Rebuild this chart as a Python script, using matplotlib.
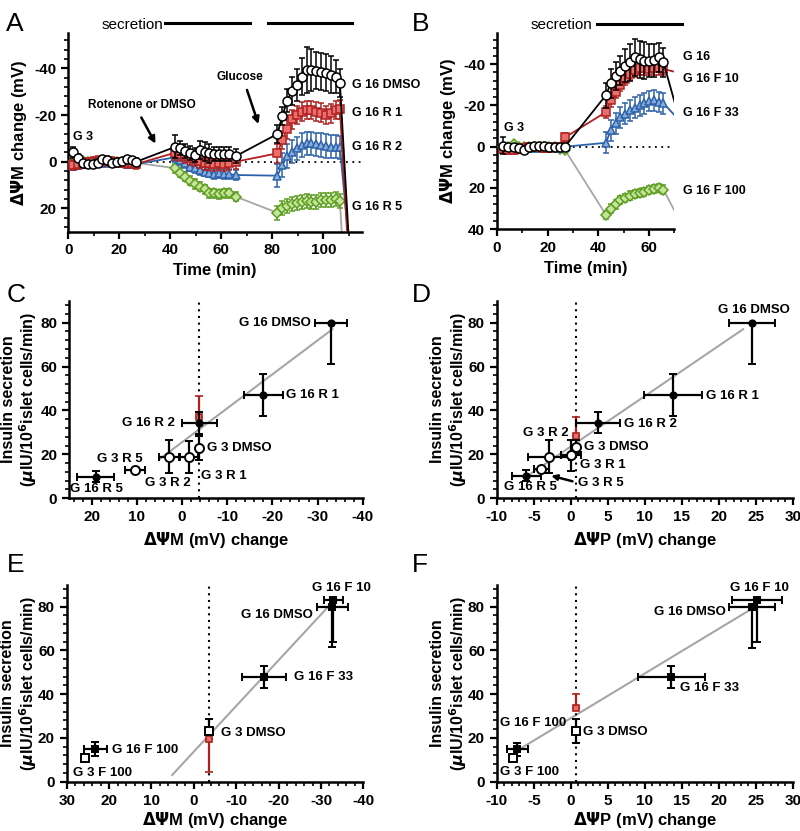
import matplotlib
matplotlib.use('Agg')
import matplotlib.pyplot as plt
from matplotlib.ticker import MultipleLocator, AutoMinorLocator

plt.rcParams['font.family'] = ['Liberation Sans', 'DejaVu Sans']
plt.rcParams['font.weight'] = 'bold'
plt.rcParams['axes.labelweight'] = 'bold'
plt.rcParams['axes.unicode_minus'] = False

# ---------------- data: panel A (time course, rotenone) ----------------
t_a = [2.0, 3.9, 5.8, 7.7, 9.6, 11.5, 13.4, 15.3, 17.2, 19.1, 21.0, 22.9, 24.8, 26.7,
       42.0, 43.9, 45.8, 47.7, 49.6, 51.5, 53.4, 55.3, 57.2, 59.1, 61.0, 62.9, 65.7,
       82.0, 83.9, 85.8, 87.7, 89.6, 91.5, 93.4, 95.3, 97.2, 99.1, 101.0, 102.9, 104.8, 106.5]
a_dmso = [-4, -1.7, 0.7, 1.1, 1.1, 0.4, -1, -0.7, 0.7, 0.3, -0.3, -1, -0.7, 0,
          -6.4, -5.7, -4.7, -3.6, -3, -5, -4.3, -3.6, -3.3, -3.3, -3.3, -3.3, -2.4,
          -11.9, -19.6, -26.1, -30.4, -32.9, -36.4, -39.3, -39.3, -39, -38.6, -38.2, -37.3, -36.4, -33.6]
a_dmso_err = [2.5, 1.5, 1.5, 1.5, 1.5, 1.5, 1.5, 1.5, 1.5, 1.5, 1.5, 1.5, 1.5, 1.5,
              5, 3, 3, 3, 3, 4, 4, 4, 3, 3, 3, 3, 3,
              4, 4, 5, 6, 7, 8, 10, 9, 8, 8, 8, 8, 7, 6]
a_r1 = [1.4, 1, 0.7, 0.3, 0, -0.3, -0.5, -0.3, 0, 0.3, 0.3, 0.5, 0.7, 1,
        -3.9, -3.3, -2.4, -1.7, -1, -0.4, 0.4, 0.7, 1.1, 0.7, 0.9, 0.5, 0,
        -3.6, -9.3, -13.9, -18.2, -20, -21.4, -22.2, -22.2, -21.4, -21, -20, -20.7, -22.2, -22.5]
a_r1_err = [2] * 14 + [3] * 13 + [4] * 14
a_r2 = [2, 1.5, 1, 1, 0.7, 0.7, 0.5, 0.5, 0.5, 0.5, 0.7, 1, 1, 1,
        -1.9, -0.7, 0.7, 2.1, 2.8, 3.6, 4.3, 4.7, 5.3, 5, 5.3, 5.3, 5.7,
        6, 1.4, -2.4, -4.3, -5.7, -7.1, -7.9, -7.9, -7.5, -7.1, -6.8, -6.4, -6.4, -6.2]
a_r2_err = [1.5] * 14 + [2] * 13 + [5] * 14
a_r5 = [0, -0.5, -0.3, 0, 0, 0, -0.5, -0.3, 0, 0, 0, 0.3, 0.5, 0.5,
        2.8, 4.7, 6.4, 8.1, 9.6, 10.7, 11.8, 13.5, 13.5, 14, 13.5, 13.5, 15,
        21.9, 20, 19, 18.1, 17.6, 17.1, 16.8, 17.1, 17.1, 16.6, 16.4, 16.4, 16.1, 17]
a_r5_err = [1] * 14 + [2] * 13 + [3] * 14
a_tail = {'dmso': (109.8, 30), 'r1': (109.3, 30), 'r2': (109.6, 30), 'r5': (107.2, 30)}

# ---------------- data: panel B (time course, FCCP) ----------------
t_b = [2.5, 4.5, 6.5, 8.5, 10.5, 12.6, 14.6, 16.6, 18.6, 20.6, 22.7, 24.7, 26.8,
       43.0, 44.9, 46.8, 48.7, 50.6, 52.5, 54.4, 56.3, 58.2, 60.1, 62.0, 63.9, 65.7]
b_g16 = [-0.5, 0, 0.3, 0.8, 1.6, 0.3, -0.5, -0.5, -0.5, 0, 0, 0, 0,
         -25, -30.8, -34.3, -36.9, -39.2, -41, -43.3, -42.5, -41.7, -41.7, -42, -43.3, -41]
b_g16_err = [4] + [1.5] * 12 + [6, 7, 7, 7, 8, 9, 9, 9, 9, 8, 8, 7, 7]
b_f10 = [1, 1.5, 1.5, 1, 0.5, 0, 0, 0, 0.5, 0.5, 0, 0, -4.5,
         -16.8, -22.5, -26.5, -30, -33, -35.5, -37, -38, -38, -37.7, -38, -38, -37.7]
b_f10_err = [2] * 13 + [3] * 13
b_f33 = [1, 1, 1, 0.5, 0.5, 0.5, 0.5, 0.5, 0.5, 0.5, 0.5, 0.5, 0,
         -1.9, -8, -11.3, -14.3, -16, -17.6, -18.9, -20, -21.1, -22.1, -22.5, -21.7, -21.1]
b_f33_err = [1.5] * 13 + [5] * 13
b_f100 = [0, 0, -1.5, 0, 0, 0, 0, 0, 0, 0, 0, 1, 1.5,
          33, 30, 28, 25.7, 24.9, 23.7, 22.9, 22.4, 22, 21, 20.4, 20, 20.8]
b_f100_err = [1] * 13 + [2] * 13
b_tail = {'g16': (70.3, -20.8), 'f10': (70.3, -36.3), 'f33': (70.3, -15), 'f100': (70.3, 31.6)}

# ---------------- data: panels C-F (secretion vs potential) ----------------
# each entry: label, x, xerr, y, yerr_low, yerr_high, open marker?
c_pts = [('G 16 DMSO', -33.0, 3.5, 80.0, 19.0, 0.0, False),
         ('G 16 R 1', -18.0, 4.3, 47.0, 9.5, 9.5, False),
         ('G 16 R 2', -3.8, 3.9, 34.4, 5.0, 5.0, False),
         ('G 3 DMSO', -3.8, 0.0, 23.0, 5.5, 5.5, True),
         ('G 3 R 1', -1.5, 2.0, 19.0, 7.3, 7.3, True),
         ('G 3 R 2', 2.9, 2.3, 19.0, 7.5, 7.5, True),
         ('G 3 R 5', 10.4, 2.3, 12.9, 1.0, 1.0, True),
         ('G 16 R 5', 19.1, 4.1, 9.9, 2.5, 2.5, False)]
c_red = (-3.8, 37.0, 0.0, 9.6)
c_fit_x, c_fit_y = [5.0, -33.3], [17.8, 77.0]
c_vline = -3.8

d_pts = [('G 16 DMSO', 24.5, 3.1, 80.0, 19.0, 0.0, False),
         ('G 16 R 1', 13.8, 3.9, 47.0, 9.5, 9.5, False),
         ('G 16 R 2', 3.65, 3.0, 34.5, 4.6, 4.6, False),
         ('G 3 DMSO', 0.7, 0.0, 23.5, 3.0, 3.0, True),
         ('G 3 R 1', 0.05, 1.4, 19.5, 7.0, 7.0, True),
         ('G 3 R 2', -3.0, 2.8, 19.0, 7.5, 7.5, True),
         ('G 3 R 5', -4.0, 1.0, 13.3, 1.0, 1.0, True),
         ('G 16 R 5', -6.0, 2.0, 10.3, 2.5, 2.5, False)]
d_red = (0.7, 28.3, 0.0, 8.6)
d_fit_x, d_fit_y = [-6.0, 23.3], [9.8, 77.0]
d_vline = 0.7

e_pts = [('G 16 F 10', -32.9, 2.3, 83.0, 19.0, 0.0, False),
         ('G 16 DMSO', -32.7, 3.7, 80.0, 18.6, 0.0, False),
         ('G 16 F 33', -16.6, 5.2, 47.7, 5.0, 5.0, False),
         ('G 3 DMSO', -3.6, 0.0, 23.2, 0.0, 5.3, True),
         ('G 16 F 100', 23.3, 2.7, 14.8, 3.2, 3.2, False),
         ('G 3 F 100', 25.7, 0.8, 10.7, 1.0, 1.0, True)]
e_red = (-3.6, 19.5, 15.0, 0.0)
e_fit_x, e_fit_y = [5.1, -31.7], [3.1, 80.0]
e_vline = -3.6

f_pts = [('G 16 F 10', 25.2, 3.4, 83.0, 19.3, 0.0, False),
         ('G 16 DMSO', 24.5, 3.1, 80.0, 19.0, 0.0, False),
         ('G 16 F 33', 13.6, 4.5, 48.0, 5.0, 5.0, False),
         ('G 3 DMSO', 0.7, 0.0, 23.2, 5.3, 5.3, True),
         ('G 16 F 100', -7.2, 1.4, 14.9, 3.0, 3.0, False),
         ('G 3 F 100', -7.8, 0.5, 10.7, 1.0, 1.0, True)]
f_red = (0.7, 33.8, 0.0, 6.2)
f_fit_x, f_fit_y = [-7.5, 24.2], [13.7, 78.5]
f_vline = 0.7

RED_LINE, RED_FACE = '#b0201f', '#e8706c'
BLUE_LINE, BLUE_FACE = '#2d62aa', '#86addc'
GREEN_EDGE, GREEN_FACE = '#5e9e22', '#c5e59a'
GRAY = '#a6a6a6'

fig = plt.figure(figsize=(8.0, 8.31), dpi=100)
axA = fig.add_axes([0.0854, 0.7212, 0.3666, 0.2386])
axB = fig.add_axes([0.6213, 0.7242, 0.2216, 0.2357])
axC = fig.add_axes([0.0864, 0.4004, 0.3670, 0.2378])
axD = fig.add_axes([0.6209, 0.4004, 0.3700, 0.2378])
axE = fig.add_axes([0.0834, 0.0593, 0.3708, 0.2369])
axF = fig.add_axes([0.6209, 0.0593, 0.3700, 0.2369])


def style(ax, xmaj, xsub, ymaj, ysub):
    for s in ['top', 'right']:
        ax.spines[s].set_visible(False)
    for s in ['left', 'bottom']:
        ax.spines[s].set_linewidth(1.8)
    ax.xaxis.set_major_locator(MultipleLocator(xmaj))
    ax.xaxis.set_minor_locator(AutoMinorLocator(xsub))
    ax.yaxis.set_major_locator(MultipleLocator(ymaj))
    ax.yaxis.set_minor_locator(AutoMinorLocator(ysub))
    ax.tick_params(which='major', length=5, width=1.6, labelsize=11)
    ax.tick_params(which='minor', length=3, width=1.2)


def trace(ax, t, v, err, tail, line_color, marker, face, edge, ms, z):
    ax.plot(list(t) + [tail[0]], list(v) + [tail[1]], color=line_color, lw=1.3, zorder=z)
    ax.errorbar(t, v, yerr=err, fmt=marker, ms=ms, mfc=face, mec=edge, mew=1.1,
                ecolor=edge, elinewidth=1.1, capsize=2.5, capthick=1.1, zorder=z + 0.5)


# ---------------- panel A ----------------
trace(axA, t_a, a_r5, a_r5_err, a_tail['r5'], GRAY, 'D', GREEN_FACE, GREEN_EDGE, 5, 2)
trace(axA, t_a, a_r2, a_r2_err, a_tail['r2'], BLUE_LINE, '^', BLUE_FACE, BLUE_LINE, 6, 3)
trace(axA, t_a, a_r1, a_r1_err, a_tail['r1'], RED_LINE, 's', RED_FACE, RED_LINE, 5.5, 4)
trace(axA, t_a, a_dmso, a_dmso_err, a_tail['dmso'], 'black', 'o', 'white', 'black', 6.5, 5)
axA.axhline(0, color='black', lw=1.3, ls=(0, (1, 2.5)), zorder=1)
axA.set_xlim(0, 115)
axA.set_ylim(30, -55)
style(axA, 20, 2, 20, 5)
axA.set_xlabel('Time (min)', fontsize=12)
axA.set_ylabel(r'$\Delta\Psi$M change (mV)', fontsize=12)
for lab, v in [('G 16 DMSO', -32.9), ('G 16 R 1', -20.9), ('G 16 R 2', -6.3), ('G 16 R 5', 19.4)]:
    axA.text(111.2, v, lab, fontsize=9, va='center', ha='left', clip_on=False)
axA.text(2, -10.7, 'G 3', fontsize=9, va='center', ha='left')
axA.text(28.8, -24.3, 'Rotenone or DMSO', fontsize=8.5, ha='center', va='center')
axA.annotate('', xy=(34.7, -6.7), xytext=(28.1, -20),
             arrowprops=dict(arrowstyle='-|>', color='black', lw=1.8, mutation_scale=10))
axA.text(67.3, -36.2, 'Glucose', fontsize=8.5, ha='center', va='center')
axA.annotate('', xy=(74.9, -15), xytext=(69.7, -31.9),
             arrowprops=dict(arrowstyle='-|>', color='black', lw=1.8, mutation_scale=10))
axA.text(37.3, -58.6, 'secretion', fontsize=11, fontweight='normal', ha='right', va='center',
         clip_on=False)
axA.plot([37.9, 71.3], [-59.5, -59.5], color='black', lw=2.2, clip_on=False)
axA.plot([78.3, 111.3], [-59.5, -59.5], color='black', lw=2.2, clip_on=False)

# ---------------- panel B ----------------
trace(axB, t_b, b_f100, b_f100_err, b_tail['f100'], GRAY, 'D', GREEN_FACE, GREEN_EDGE, 5, 2)
trace(axB, t_b, b_f33, b_f33_err, b_tail['f33'], BLUE_LINE, '^', BLUE_FACE, BLUE_LINE, 6, 3)
trace(axB, t_b, b_f10, b_f10_err, b_tail['f10'], RED_LINE, 's', RED_FACE, RED_LINE, 5.5, 4)
trace(axB, t_b, b_g16, b_g16_err, b_tail['g16'], 'black', 'o', 'white', 'black', 6.5, 5)
axB.axhline(0, color='black', lw=1.3, ls=(0, (1, 2.5)), zorder=1)
axB.set_xlim(0, 70)
axB.set_ylim(40, -55)
style(axB, 20, 2, 20, 5)
axB.set_xlabel('Time (min)', fontsize=12)
axB.set_ylabel(r'$\Delta\Psi$M change (mV)', fontsize=12)
for lab, v in [('G 16', -43.3), ('G 16 F 10', -32.8), ('G 16 F 33', -16.3), ('G 16 F 100', 21.5)]:
    axB.text(73.6, v, lab, fontsize=9, va='center', ha='left', clip_on=False)
axB.text(2.8, -8.9, 'G 3', fontsize=9, va='center', ha='left')
axB.text(37.8, -59.0, 'secretion', fontsize=11, fontweight='normal', ha='right', va='center',
         clip_on=False)
axB.plot([39.4, 72.9], [-59.7, -59.7], color='black', lw=2.2, clip_on=False)


# ---------------- panels C-F ----------------
def scatter_panel(ax, pts, red, fit_x, fit_y, vline, square, label_x):
    ax.plot(fit_x, fit_y, color=GRAY, lw=1.5, zorder=1)
    ax.axvline(vline, color='black', lw=1.5, ls=(0, (1, 2.2)), zorder=1)
    rx, ry, rlo, rhi = red
    ax.errorbar([rx], [ry], yerr=[[rlo], [rhi]], fmt='s', ms=4,
                mfc=RED_FACE, mec=RED_LINE, mew=1.2, ecolor=RED_LINE, elinewidth=1.6,
                capsize=3, capthick=1.6, zorder=2)
    for lab, x, xe, y, ylo, yhi, is_open in pts:
        mk = 's' if square else 'o'
        if is_open:
            ms, face = (6 if square else 6.5), 'white'
        else:
            ms, face = (5 if square else 4.5), 'black'
        ax.errorbar([x], [y], xerr=[xe] if xe > 0 else None, yerr=[[ylo], [yhi]],
                    fmt=mk, ms=ms, mfc=face, mec='black', mew=1.4, ecolor='black',
                    elinewidth=1.6, capsize=3, capthick=1.6, zorder=3)
    ax.set_ylim(0, 90)
    ax.set_ylabel('Insulin secretion\n' + r'($\mu$IU/10$^{\mathbf{6}}$islet cells/min)',
                  fontsize=11.5, linespacing=1.1)
    ax.yaxis.set_label_coords(label_x, 0.5)


scatter_panel(axC, c_pts, c_red, c_fit_x, c_fit_y, c_vline, False, -0.103)
axC.set_xlim(25, -40)
style(axC, 10, 5, 20, 5)
axC.set_xlabel(r'$\Delta\Psi$M (mV) change', fontsize=12)
c_labels = [('G 16 DMSO', -28.5, 80.0, 'right'), ('G 16 R 1', -23.0, 47.0, 'left'),
            ('G 16 R 2', 1.5, 34.5, 'right'), ('G 3 DMSO', -5.5, 22.8, 'left'),
            ('G 3 R 1', -4.2, 10.3, 'left'), ('G 3 R 2', 3.1, 7.1, 'center'),
            ('G 3 R 5', 13.7, 17.9, 'center'), ('G 16 R 5', 18.9, 4.1, 'center')]
for lab, x, y, ha in c_labels:
    axC.text(x, y, lab, fontsize=9.5, ha=ha, va='center')

scatter_panel(axD, d_pts, d_red, d_fit_x, d_fit_y, d_vline, False, -0.095)
axD.set_xlim(-10, 30)
style(axD, 5, 5, 20, 5)
axD.set_xlabel(r'$\Delta\Psi$P (mV) change', fontsize=12)
d_labels = [('G 16 DMSO', 24.7, 85.8, 'center'), ('G 16 R 1', 18.3, 46.6, 'left'),
            ('G 16 R 2', 7.2, 33.8, 'left'), ('G 3 R 2', -3.4, 29.9, 'center'),
            ('G 3 DMSO', 1.8, 23.5, 'left'), ('G 3 R 1', 1.2, 15.2, 'left'),
            ('G 3 R 5', 1.0, 6.8, 'left'), ('G 16 R 5', -5.5, 5.0, 'center')]
for lab, x, y, ha in d_labels:
    axD.text(x, y, lab, fontsize=9.5, ha=ha, va='center')
axD.annotate('', xy=(-3.0, 10.6), xytext=(0.6, 7.4),
             arrowprops=dict(arrowstyle='-|>', color='black', lw=1.8, mutation_scale=8))

scatter_panel(axE, e_pts, e_red, e_fit_x, e_fit_y, e_vline, True, -0.095)
axE.set_xlim(30, -40)
style(axE, 10, 5, 20, 5)
axE.set_xlabel(r'$\Delta\Psi$M (mV) change', fontsize=12, labelpad=2)
e_labels = [('G 16 F 10', -34.9, 88.4, 'center'), ('G 16 DMSO', -28.2, 76.2, 'right'),
            ('G 16 F 33', -23.6, 47.7, 'left'), ('G 3 DMSO', -6.3, 22.4, 'left'),
            ('G 16 F 100', 19.2, 14.5, 'left'), ('G 3 F 100', 28.6, 3.8, 'left')]
for lab, x, y, ha in e_labels:
    axE.text(x, y, lab, fontsize=9.5, ha=ha, va='center')

scatter_panel(axF, f_pts, f_red, f_fit_x, f_fit_y, f_vline, True, -0.095)
axF.set_xlim(-10, 30)
style(axF, 5, 5, 20, 5)
axF.set_xlabel(r'$\Delta\Psi$P (mV) change', fontsize=12, labelpad=2)
f_labels = [('G 16 F 10', 25.5, 88.4, 'center'), ('G 16 DMSO', 20.9, 77.7, 'right'),
            ('G 16 F 33', 14.8, 42.7, 'left'), ('G 3 DMSO', 1.7, 22.9, 'left'),
            ('G 16 F 100', -9.5, 26.7, 'left'), ('G 3 F 100', -9.55, 4.6, 'left')]
for lab, x, y, ha in f_labels:
    axF.text(x, y, lab, fontsize=9.5, ha=ha, va='center')

# panel letters
for letter, x, y in [('A', 0.008, 0.985), ('B', 0.515, 0.985), ('C', 0.008, 0.66),
                     ('D', 0.515, 0.66), ('E', 0.008, 0.335), ('F', 0.515, 0.335)]:
    fig.text(x, y, letter, fontsize=19, fontweight='normal', va='top', ha='left')

fig.savefig('out.png', dpi=100)
